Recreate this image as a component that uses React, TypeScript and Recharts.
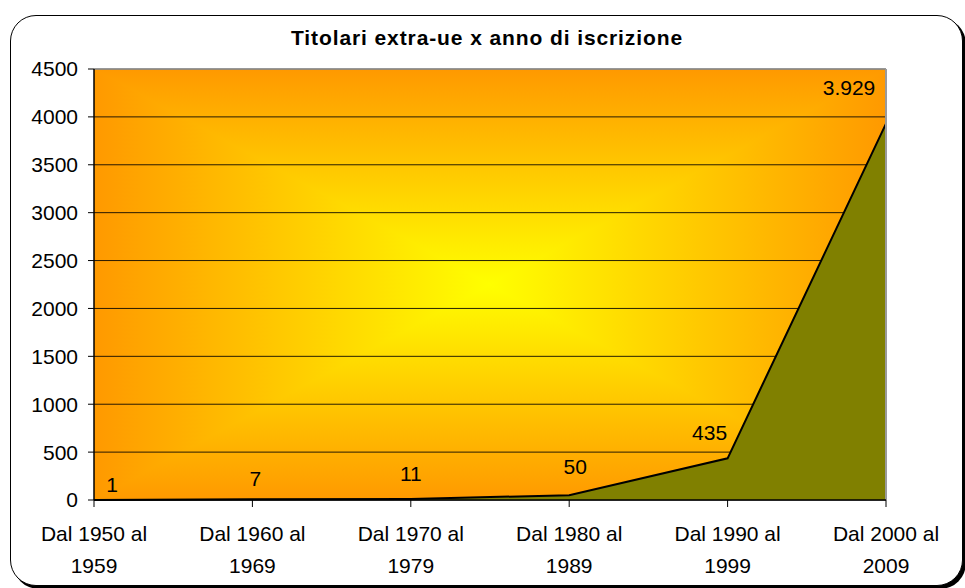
import React from 'react';
import { AreaChart, Area, XAxis, YAxis, CartesianGrid, ReferenceArea, ReferenceLine, LabelList } from 'recharts';

// dati
const categories = [
  'Dal 1950 al 1959',
  'Dal 1960 al 1969',
  'Dal 1970 al 1979',
  'Dal 1980 al 1989',
  'Dal 1990 al 1999',
  'Dal 2000 al 2009',
];
const titolari = [1, 7, 11, 50, 435, 3929];
const yTicks = [0, 500, 1000, 1500, 2000, 2500, 3000, 3500, 4000, 4500];

// spostamenti delle etichette (come posizionate a mano nell'originale)
const labelNudgeX = [18, 3, 0, 6, -18, -37];
const labelNudgeY = [-15, -21, -25, -29, -26, -36];

const data = categories.map((c, i) => ({ name: c, value: titolari[i] }));

const FONT = '"Liberation Sans", Arial, sans-serif';
const ORANGE = '#ff9900';
const YELLOW = '#ffff00';

const fmt = (v: number) => String(v).replace(/\B(?=(\d{3})+(?!\d))/g, '.');

// sfondo con sfumatura rettangolare dal centro
const Background = (props: any) => {
  const { x, y, width, height } = props;
  const cx = x + width / 2;
  const cy = y + height / 2;
  const r = x + width;
  const b = y + height;
  return (
    <g>
      <defs>
        <linearGradient id="hg" gradientUnits="userSpaceOnUse" x1={x} y1={0} x2={r} y2={0}>
          <stop offset="0" stopColor={ORANGE} />
          <stop offset="0.5" stopColor={YELLOW} />
          <stop offset="1" stopColor={ORANGE} />
        </linearGradient>
        <linearGradient id="vg" gradientUnits="userSpaceOnUse" x1={0} y1={y} x2={0} y2={b}>
          <stop offset="0" stopColor={ORANGE} />
          <stop offset="0.5" stopColor={YELLOW} />
          <stop offset="1" stopColor={ORANGE} />
        </linearGradient>
      </defs>
      <rect x={x} y={y} width={width} height={height} fill="url(#hg)" />
      <polygon points={`${x},${y} ${r},${y} ${cx},${cy}`} fill="url(#vg)" />
      <polygon points={`${x},${b} ${r},${b} ${cx},${cy}`} fill="url(#vg)" />
    </g>
  );
};

const XTick = (props: any) => {
  const { x, y, payload } = props;
  const s: string = payload.value;
  const i = s.lastIndexOf(' ');
  return (
    <text x={x} y={y} textAnchor="middle" fill="#000" fontSize={21} fontFamily={FONT}>
      <tspan x={x} dy={34}>{s.slice(0, i)}</tspan>
      <tspan x={x} dy={32}>{s.slice(i + 1)}</tspan>
    </text>
  );
};

const ValueLabel = (props: any) => {
  const { x, y, value, index } = props;
  return (
    <text
      x={x + labelNudgeX[index]}
      y={y + labelNudgeY[index]}
      dy="0.35em"
      textAnchor="middle"
      fill="#000"
      fontSize={21}
      fontFamily={FONT}
    >
      {fmt(value)}
    </text>
  );
};

export default function App() {
  return (
    <div style={{ position: 'absolute', left: 0, top: 0, width: 965, height: 588, fontFamily: FONT }}>
      <div
        style={{
          position: 'absolute',
          left: 10,
          top: 15,
          width: 953,
          height: 571,
          boxSizing: 'border-box',
          border: '1.5px solid #000',
          borderRadius: 26,
          boxShadow: '3px 3px 0 #000',
          background: '#fff',
        }}
      />
      <div
        style={{
          position: 'absolute',
          left: 237,
          top: 25,
          width: 500,
          textAlign: 'center',
          fontSize: 21,
          fontWeight: 'bold',
          lineHeight: '26px',
          letterSpacing: 0.9,
          color: '#000',
        }}
      >
        Titolari extra-ue x anno di iscrizione
      </div>
      <div style={{ position: 'absolute', left: 0, top: 0 }}>
        <AreaChart width={965} height={588} data={data} margin={{ top: 69, right: 79, bottom: 28, left: 0 }}>
          <ReferenceArea
            x1={categories[0]}
            x2={categories[categories.length - 1]}
            y1={0}
            y2={4500}
            shape={<Background />}
            zIndex={-200}
            ifOverflow="visible"
          />
          <CartesianGrid vertical={false} stroke="#000" strokeWidth={1} strokeOpacity={0.85} />
          <XAxis
            dataKey="name"
            height={60}
            interval={0}
            tickSize={7}
            tickMargin={0}
            tick={<XTick />}
            axisLine={{ stroke: '#000', strokeWidth: 1.5 }}
            tickLine={{ stroke: '#000' }}
          />
          <YAxis
            width={94}
            domain={[0, 4500]}
            ticks={yTicks}
            interval={0}
            tickSize={6}
            tickMargin={10}
            axisLine={{ stroke: '#000', strokeWidth: 1.5 }}
            tickLine={{ stroke: '#000' }}
            tick={{ fill: '#000', fontSize: 21, fontFamily: FONT }}
          />
          <Area
            type="linear"
            dataKey="value"
            fill="#808000"
            fillOpacity={1}
            stroke="#000"
            strokeWidth={2}
            dot={false}
            activeDot={false}
            isAnimationActive={false}
          >
            <LabelList dataKey="value" content={<ValueLabel />} />
          </Area>
          <ReferenceLine y={4500} stroke="#9a9a9a" strokeWidth={1.5} />
          <ReferenceLine x={categories[categories.length - 1]} stroke="#9a9a9a" strokeWidth={2} />
        </AreaChart>
      </div>
    </div>
  );
}
